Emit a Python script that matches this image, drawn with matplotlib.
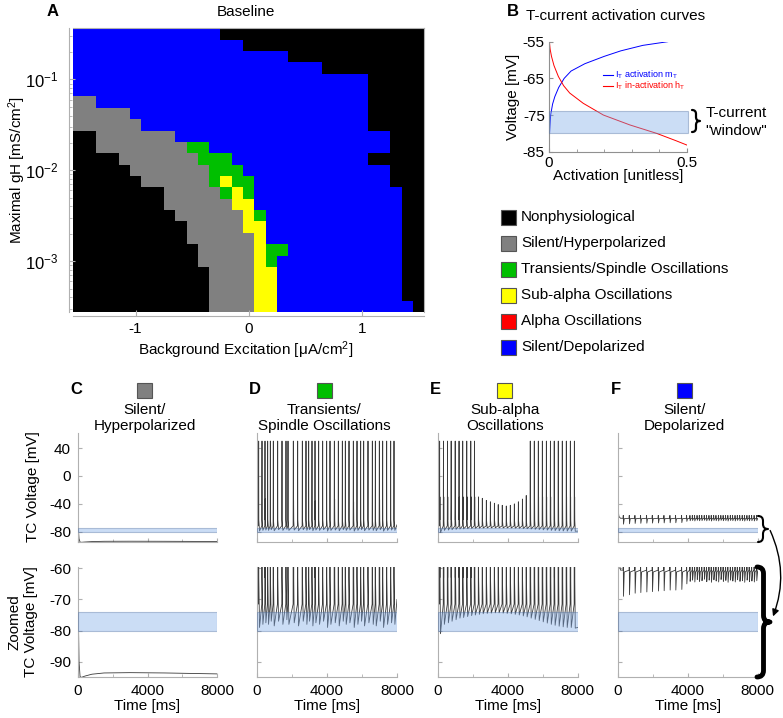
import numpy as np
import matplotlib
matplotlib.use('Agg')
import matplotlib.pyplot as plt
from matplotlib.colors import ListedColormap
from matplotlib.patches import Rectangle, FancyArrowPatch, PathPatch
from matplotlib.path import Path

plt.rcParams['font.family'] = ['Liberation Sans', 'DejaVu Sans']
plt.rcParams['mathtext.fontset'] = 'custom'
plt.rcParams['mathtext.rm'] = 'Liberation Sans'
plt.rcParams['mathtext.it'] = 'Liberation Sans:italic'
plt.rcParams['mathtext.bf'] = 'Liberation Sans:bold'
plt.rcParams['axes.unicode_minus'] = False
plt.rcParams['font.size'] = 11

W, H = 783, 718

# ---------------- panel A : regime map ----------------
exc = np.round(np.arange(-1.5, 1.51, 0.1), 2)      # background excitation [uA/cm2]
log_gh = np.arange(-3.5, -0.49, 0.125)              # log10 maximal gH [mS/cm2]
state_names = ['Nonphysiological', 'Silent/Hyperpolarized', 'Transients/Spindle Oscillations',
               'Sub-alpha Oscillations', 'Alpha Oscillations', 'Silent/Depolarized']
state_colors = ['#000000', '#808080', '#00bf00', '#ffff00', '#ff0000', '#0000ff']
state_codes = 'KGSYRB'
# run-length rows, top row = largest gH
regime_rows = [
    'B13 K18', 'B15 K16', 'B19 K12', 'B22 K9', 'B26 K5', 'B26 K5',
    'G2 B24 K5', 'G5 B21 K5', 'G6 B20 K5',
    'K2 G7 B19 K3', 'K2 G8 S2 B16 K3', 'K4 G7 S3 B12 K5', 'K5 G7 S3 B13 K3',
    'K6 G6 S1 Y1 S2 B12 K3', 'K8 G5 S1 Y1 S1 B13 K2', 'K8 G6 Y2 B13 K2',
    'K9 G6 Y1 S1 B12 K2', 'K10 G5 Y2 B12 K2', 'K10 G6 Y1 B12 K2',
    'K11 G5 Y1 S2 B10 K2', 'K11 G5 Y1 S1 B11 K2',
    'K12 G4 Y2 B11 K2', 'K12 G4 Y2 B11 K2', 'K12 G4 Y2 B11 K2', 'K12 G4 Y2 B12 K1',
]

# ---------------- panel B : T-current curves ----------------
m_volt = [-85, -80, -75, -72, -70, -67.5, -65, -63, -61, -59, -57.5, -56, -55]
m_act = [0.0003, 0.002, 0.006, 0.013, 0.021, 0.035, 0.055, 0.08, 0.13, 0.20, 0.26, 0.34, 0.43]
h_volt = [-55, -57, -59, -61.5, -64.5, -67, -69, -71.8, -75, -77.7, -80, -82, -83.2]
h_act = [0.0015, 0.004, 0.009, 0.018, 0.034, 0.053, 0.075, 0.124, 0.197, 0.293, 0.39, 0.46, 0.50]
window = (-80, -74)

# ---------------- panels C-F : TC voltage traces ----------------
c_time = [0, 20, 60, 120, 200, 400, 800, 1500, 3000, 5000, 7000, 8000]
c_volt = [-62, -75, -90, -94.8, -95, -94.6, -94.0, -93.6, -93.5, -93.6, -93.8, -93.9]

d_spikes = [95, 286, 457, 610, 762, 933, 1181, 1429, 1657, 1772, 2076, 2324, 2591, 2800,
            2953, 3143, 3315, 3524, 3753, 3981, 4172, 4420, 4648, 4877, 5048, 5258, 5505,
            5715, 5924, 6096, 6343, 6591, 6763, 6991, 7182, 7410, 7639, 7829]
d_trough = [-79, -78, -77.5, -78, -77, -78.5, -77, -78, -76.5, -78, -77.5, -78.5, -77, -78,
            -77, -78.5, -77.5, -78, -77, -79, -78, -77.5, -78.5, -77, -78, -77.5, -79, -78,
            -77, -78.5, -77.5, -78, -78.5, -77, -79, -78, -77.5, -78]
d_second = {2: -33, 10: -35, 16: -36, 21: -33, 26: -37, 33: -34}

e_spikes = [110, 330, 560, 770, 1000, 1220, 1430, 1660, 1890, 2100, 2330, 2550, 2780, 3010,
            3240, 3460, 3690, 3920, 4150, 4380, 4610, 4840, 5060, 5290, 5520, 5750, 5980,
            6210, 6440, 6660, 6890, 7120, 7350, 7580, 7810]
e_peak = [50] * 10 + [-30, -32, -35, -37, -39, -41, -42, -43, -42, -40, -37, -33, -28] + [50] * 12
e_trough = [-81, -78, -77.5, -77, -76.5, -76, -75.8, -75.5, -75.2, -75, -74.8, -74.6, -74.5,
            -74.4, -74.3, -74.3, -74.4, -74.5, -74.6, -74.8, -75, -75.3, -75.6, -76, -76.4,
            -76.8, -77.2, -77.6, -78, -78.3, -78.6, -78.8, -79, -79, -79.2]

f_dips = [324, 667, 990, 1314, 1657, 1981, 2324, 2648, 2990, 3314, 3657, 3943,
          4133, 4270, 4400, 4540, 4670, 4810, 4950, 5080, 5220, 5350, 5490, 5620, 5760,
          5900, 6030, 6170, 6300, 6440, 6570, 6710, 6840, 6980, 7120, 7250, 7390, 7520,
          7660, 7800, 7940]
f_depth = [-69, -68.5, -68, -67.8, -67.6, -67.5, -67.3, -67.2, -67, -67, -66.8, -65,
           -64.2, -63.8, -64.4, -63.6, -64.2, -64, -63.5, -64.3, -63.8, -64.5, -63.7, -64.1,
           -64.4, -63.6, -64.2, -63.9, -64.5, -63.8, -64.1, -64.4, -63.7, -64.2, -64, -64.5,
           -63.8, -64.3, -64.1, -64.4, -64]

TRACE = '#3a3a3a'
SPINE = '#b0b0b0'


def px_axes(fig, l, t, r, b):
    return fig.add_axes([l / W, 1 - b / H, (r - l) / W, (b - t) / H])


def spike_train(spikes, peaks, troughs, v0, v_end, second=None):
    t, v = [0.0], [v0]
    for i, ts in enumerate(spikes):
        t += [ts - 12, ts, ts + 8]
        v += [-71.5, peaks[i], -63]
        if second and i in second:
            t += [ts + 16, ts + 24]
            v += [second[i], -64]
        t += [ts + 50]
        v += [troughs[i]]
    t.append(8000)
    v.append(v_end)
    return t, v


def dip_train(dips, depths):
    t, v = [0, 8, 30, 70, 160], [-64, 55, -50, -58, -60.6]
    for td, dv in zip(dips, depths):
        t += [td - 14, td - 6, td, td + 8, td + 50]
        v += [-60.6, -56.5, -60.5, dv, -61.2]
    t.append(8000)
    v.append(-60.8)
    return t, v


def style_axes(ax, color=SPINE):
    for s in ['top', 'right']:
        ax.spines[s].set_visible(False)
    for s in ['left', 'bottom']:
        ax.spines[s].set_color(color)
        ax.spines[s].set_linewidth(0.8)
    ax.tick_params(which='both', direction='in', color=color, labelsize=10.5)
    ax.tick_params(which='major', length=3)
    ax.tick_params(which='minor', length=2)


def brace(ax, x, y_top, y_bot, w, lw):
    xm = x + w / 2
    ym = (y_top + y_bot) / 2
    r = w / 2
    verts = [(x, y_top), (xm, y_top), (xm, y_top + r), (xm, ym - r), (xm, ym), (x + w, ym),
             (xm, ym), (xm, ym + r), (xm, y_bot - r), (xm, y_bot), (x, y_bot)]
    codes = [Path.MOVETO, Path.CURVE3, Path.CURVE3, Path.LINETO, Path.CURVE3, Path.CURVE3,
             Path.CURVE3, Path.CURVE3, Path.LINETO, Path.CURVE3, Path.CURVE3]
    ax.add_patch(PathPatch(Path(verts, codes), fc='none', ec='black', lw=lw,
                           capstyle='round', joinstyle='round'))


fig = plt.figure(figsize=(W / 100, H / 100), dpi=100)

# ---- A
grid = []
for row in regime_rows:
    cells = []
    for tok in row.split():
        cells += [state_codes.index(tok[0])] * int(tok[1:])
    grid.append(cells)
grid = np.array(grid)[::-1]
x_edges = np.append(exc - 0.05, exc[-1] + 0.05)
y_edges = 10 ** np.append(log_gh - 0.0625, log_gh[-1] + 0.0625)

axA = px_axes(fig, 73.3, 28.3, 424.3, 312.3)
axA.pcolormesh(x_edges, y_edges, grid, cmap=ListedColormap(state_colors), vmin=-0.5, vmax=5.5)
axA.set_yscale('log')
axA.set_xlim(x_edges[0], x_edges[-1])
axA.set_ylim(y_edges[0], y_edges[-1])
axA.set_xticks([-1, 0, 1])
axA.set_yticks([1e-3, 1e-2, 1e-1])
for s in axA.spines.values():
    s.set_color(SPINE)
    s.set_linewidth(0.8)
axA.spines['left'].set_position(('outward', 3))
axA.spines['bottom'].set_position(('outward', 3))
axA.tick_params(which='both', direction='in', color=SPINE, top=False, right=False)
axA.tick_params(which='major', length=4)
axA.tick_params(which='minor', length=2)
axA.tick_params(axis='x', labelsize=11, pad=4)
axA.tick_params(axis='y', labelsize=12, pad=8)

# ---- B
axB = px_axes(fig, 549, 41.7, 687, 151.7)
axB.plot(m_act, m_volt, color='#0000ff', lw=0.7)
axB.plot(h_act, h_volt, color='#ff0000', lw=0.7)
axB.add_patch(Rectangle((0, window[0]), 0.505, window[1] - window[0], fc='#7faae6',
                        ec='#4f6fa0', lw=0.8, alpha=0.4, zorder=3, clip_on=False))
axB.set_xlim(0, 0.5)
axB.set_ylim(-85, -55)
axB.set_yticks([-85, -75, -65, -55])
axB.set_xticks([0, 0.5])
axB.set_xticklabels(['0', '0.5'])
axB.set_xticks([0.1, 0.2, 0.3, 0.4], minor=True)
style_axes(axB, '#909090')
axB.tick_params(axis='both', labelsize=11, pad=3)

# ---- C-F
cols = [(78, 217), (257, 397), (437.7, 577.7), (617.7, 757.7)]
traces = [
    (c_time, c_volt),
    spike_train(d_spikes, [50] * len(d_spikes), d_trough, -62, -70, d_second),
    spike_train(e_spikes, e_peak, e_trough, -62, -79,
                {i: -30 for i in list(range(10)) + list(range(23, 35))}),
    dip_train(f_dips, f_depth),
]
rows = [((432.7, 542), (-94.6, 62), [-80, -40, 0, 40]),
        ((566.7, 676.7), (-94.8, -59.5), [-90, -80, -70, -60])]
for ri, ((yt, yb), ylim, yticks) in enumerate(rows):
    for ci, (xl, xr) in enumerate(cols):
        ax = px_axes(fig, xl, yt, xr, yb)
        tt, vv = traces[ci]
        ax.plot(tt, vv, color=TRACE, lw=0.6)
        ax.add_patch(Rectangle((0, window[0]), 8000, window[1] - window[0], fc='#7faae6',
                               ec='#4f6fa0', lw=0.8, alpha=0.4, zorder=3))
        ax.set_xlim(0, 8000)
        ax.set_ylim(*ylim)
        ax.set_yticks(yticks)
        ax.set_xticks([0, 4000, 8000])
        ax.set_xticks([2000, 6000], minor=True)
        style_axes(ax)
        ax.tick_params(axis='both', labelsize=11, pad=5)
        if ci > 0:
            ax.set_yticklabels([])
        if ri == 0:
            ax.set_xticklabels([])
        else:
            ax.set_xlabel('Time [ms]', fontsize=11, labelpad=1)

# ---- overlay in pixel coordinates
ov = fig.add_axes([0, 0, 1, 1], facecolor='none')
ov.set_xlim(0, W)
ov.set_ylim(H, 0)
ov.axis('off')

ov.text(53, 11, 'A', fontsize=12, fontweight='bold', ha='center', va='center')
ov.text(246, 12, 'Baseline', fontsize=11, ha='center', va='center')
ov.text(17, 170, 'Maximal gH [mS/cm$^2$]', fontsize=11, rotation=90, ha='center', va='center')
ov.text(246, 350, 'Background Excitation [μA/cm$^2$]', fontsize=11, ha='center', va='center')

ov.text(513, 12, 'B', fontsize=12, fontweight='bold', ha='center', va='center')
ov.text(526, 16, 'T-current activation curves', fontsize=11, ha='left', va='center')
ov.text(513, 97, 'Voltage [mV]', fontsize=11, rotation=90, ha='center', va='center')
ov.text(618, 176, 'Activation [unitless]', fontsize=11, ha='center', va='center')
ov.plot([603, 613], [75, 75], color='#0000ff', lw=0.8)
ov.plot([603, 613], [86, 86], color='#ff0000', lw=0.8)
ov.text(615, 75, r'I$_\mathrm{T}$ activation m$_\mathrm{T}$', color='#0000ff', fontsize=6.5,
        ha='left', va='center')
ov.text(615, 86, r'I$_\mathrm{T}$ in-activation h$_\mathrm{T}$', color='#ff0000', fontsize=6.5,
        ha='left', va='center')
brace(ov, 692, 110, 132, 8, 1.6)
ov.text(736, 113, 'T-current', fontsize=11, ha='center', va='center')
ov.text(736, 131, '"window"', fontsize=11, ha='center', va='center')

for k, (name, col) in enumerate(zip(state_names, state_colors)):
    yc = 217 + k * 26
    ov.add_patch(Rectangle((501, yc - 7.5), 15, 15, fc=col, ec='#555555', lw=0.8))
    ov.text(521, yc, name, fontsize=11, ha='left', va='center')

headers = [('C', 'Silent/\nHyperpolarized', 1), ('D', 'Transients/\nSpindle Oscillations', 2),
           ('E', 'Sub-alpha\nOscillations', 3), ('F', 'Silent/\nDepolarized', 5)]
for (xl, xr), (letter, title, state) in zip(cols, headers):
    xc = (xl + xr) / 2 - 3
    ov.text(xl - 2, 390, letter, fontsize=12, fontweight='bold', ha='center', va='center')
    ov.add_patch(Rectangle((xc - 7.5, 383), 15, 15, fc=state_colors[state], ec='#555555', lw=0.8))
    ov.text(xc, 418, title, fontsize=11, ha='center', va='center', linespacing=1.25)

ov.text(33, 487, 'TC Voltage [mV]', fontsize=11, rotation=90, ha='center', va='center')
ov.text(23, 622, 'Zoomed\nTC Voltage [mV]', fontsize=11, rotation=90, ha='center',
        va='center', linespacing=1.25)

brace(ov, 758, 516, 542, 10, 1.5)
brace(ov, 757, 567, 677, 13, 3.5)
ov.add_patch(FancyArrowPatch((769, 528), (772, 619), connectionstyle='arc3,rad=-0.22',
                             arrowstyle='-|>', mutation_scale=10, lw=1, color='black'))

fig.savefig('out.png', dpi=100)
